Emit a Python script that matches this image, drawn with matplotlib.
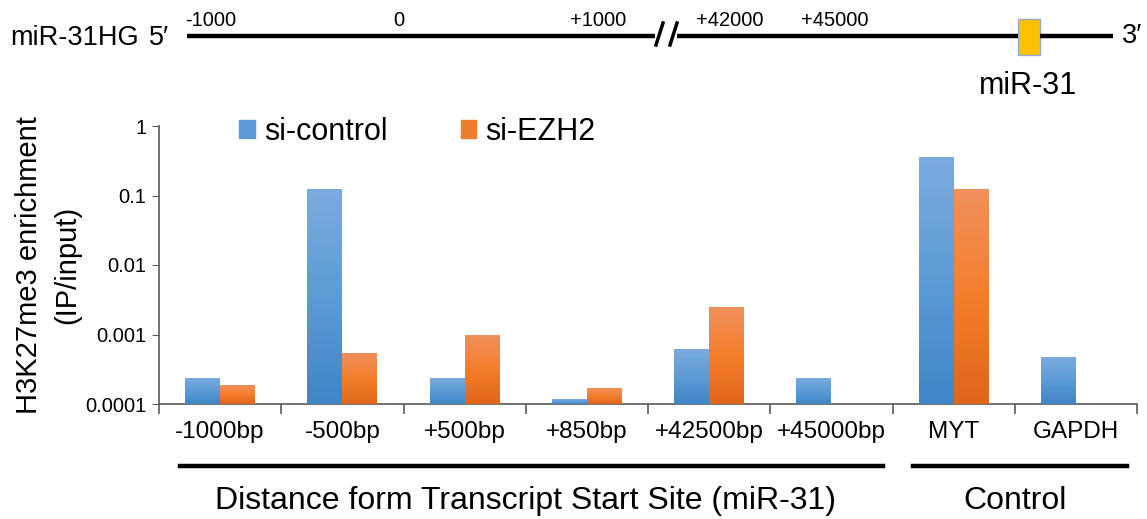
import numpy as np
import matplotlib
matplotlib.use("Agg")
import matplotlib.pyplot as plt
from matplotlib.patches import Rectangle, Patch
from matplotlib.lines import Line2D
from matplotlib.colors import LinearSegmentedColormap
import matplotlib.transforms as mtransforms

plt.rcParams['font.family'] = ['Liberation Sans', 'DejaVu Sans']

# данные: обогащение H3K27me3 (IP/input)
categories = ['-1000bp', '-500bp', '+500bp', '+850bp', '+42500bp', '+45000bp', 'MYT', 'GAPDH']
si_control = [2.4e-4, 0.123, 2.4e-4, 1.18e-4, 6.1e-4, 2.4e-4, 0.355, 4.8e-4]
si_ezh2 = [1.9e-4, 5.4e-4, 1.0e-3, 1.7e-4, 2.5e-3, np.nan, 0.126, np.nan]
series_names = ['si-control', 'si-EZH2']
ytick_vals = [1e-4, 1e-3, 1e-2, 1e-1, 1]
ytick_labels = ['0.0001', '0.001', '0.01', '0.1', '1']
groups = ['Distance form Transcript Start Site (miR-31)', 'Control']
group_sizes = [6, 2]
gene_marks = ['-1000', '0', '+1000', '+42000', '+45000']

W, H = 1147, 519
fig = plt.figure(figsize=(W / 100, H / 100), dpi=100)
ax = fig.add_axes([159 / W, 115 / H, 978 / W, 278 / H])

base = 1e-4
x = np.arange(len(categories)) + 0.5
bw = 0.286
blue_cm = LinearSegmentedColormap.from_list('b', ['#3f86c6', '#5b9bd5', '#7aaade'])
orange_cm = LinearSegmentedColormap.from_list('o', ['#e0661a', '#f47d2c', '#f0905c'])

for vals, off, col, cm in [(si_control, -bw / 2, '#5b9bd5', blue_cm),
                           (si_ezh2, bw / 2, '#ed7d31', orange_cm)]:
    vals = np.array(vals)
    bars = ax.bar(x + off, vals - base, bottom=base, width=bw, color=col,
                  edgecolor='none', zorder=2)
    # градиент внутри каждого столбца
    for b in bars:
        bb = b.get_bbox()
        if not np.isfinite(bb.y1) or bb.y1 <= base:
            continue
        ye = np.geomspace(base, bb.y1, 40)
        c = np.linspace(0, 1, 39).reshape(-1, 1)
        ax.pcolormesh([bb.x0, bb.x1], ye, c, cmap=cm, zorder=3, shading='flat')

ax.set_yscale('log')
ax.set_ylim(1e-4, 1)
ax.set_xlim(0, len(categories))
ax.set_yticks(ytick_vals)
ax.set_yticklabels(ytick_labels)
ax.yaxis.set_minor_locator(matplotlib.ticker.NullLocator())
ax.set_xticks(np.arange(len(categories) + 1))
ax.set_xticklabels([])
ax.set_xticks(x, minor=True)
ax.set_xticklabels(categories, minor=True)

for s in ['top', 'right']:
    ax.spines[s].set_visible(False)
for s in ['left', 'bottom']:
    ax.spines[s].set_color('#595959')
    ax.spines[s].set_linewidth(1.2)
ax.tick_params(axis='y', which='major', length=5, color='#595959', labelsize=14.5, pad=4)
ax.tick_params(axis='x', which='major', length=7, color='#595959', width=1.2)
ax.tick_params(axis='x', which='minor', length=0, labelsize=17.5, pad=12)

ax.set_ylabel('H3K27me3 enrichment\n(IP/input)', fontsize=21, linespacing=1.45)
ax.yaxis.set_label_coords(-0.08, 0.5)

fig.legend(handles=[Patch(color='#5b9bd5'), Patch(color='#ed7d31')], labels=series_names,
           loc='center left', bbox_to_anchor=(224 / W, (H - 132) / H), ncol=2,
           frameon=False, fontsize=22, handlelength=0.5, handleheight=0.5,
           handletextpad=0.3, columnspacing=2.4, borderpad=0)

# подписи групп под осью
trans = mtransforms.blended_transform_factory(ax.transData, fig.transFigure)
start = 0
for name, n in zip(groups, group_sizes):
    ax.add_line(Line2D([start + 0.17, start + n - 0.08], [(H - 466) / H] * 2,
                       transform=trans, color='black', lw=3.2, clip_on=False))
    ax.text(start + n / 2, (H - 501) / H, name, transform=trans, ha='center',
            va='center', fontsize=23)
    start += n

# схема гена сверху (в пикселях)
top = fig.add_axes([0, 0, 1, 1], zorder=-1)
top.set_xlim(0, W)
top.set_ylim(H, 0)
top.axis('off')
top.text(10, 38, 'miR-31HG', fontsize=19.5, va='center', ha='left')
top.text(149, 38, '5\u2032', fontsize=19.5, va='center', ha='left')
top.plot([187, 655], [36, 36], color='black', lw=3.2, solid_capstyle='butt')
top.plot([677, 1018], [36, 36], color='black', lw=3.2, solid_capstyle='butt')
top.plot([1040, 1113], [36, 36], color='black', lw=3.2, solid_capstyle='butt')
top.plot([656, 663], [45, 23], color='black', lw=2.5)
top.plot([670, 677], [45, 23], color='black', lw=2.5)
top.add_patch(Rectangle((1018, 19), 22, 36, facecolor='#ffc000', edgecolor='#8faadc', lw=1))
top.text(1122, 36, '3\u2032', fontsize=19.5, va='center', ha='left')
top.text(1028, 86, 'miR-31', fontsize=22, va='center', ha='center')
for lab, px in zip(gene_marks, [211, 399, 598, 730, 835]):
    top.text(px, 21, lab, fontsize=14.5, va='center', ha='center')

fig.savefig('out.png', dpi=100)
